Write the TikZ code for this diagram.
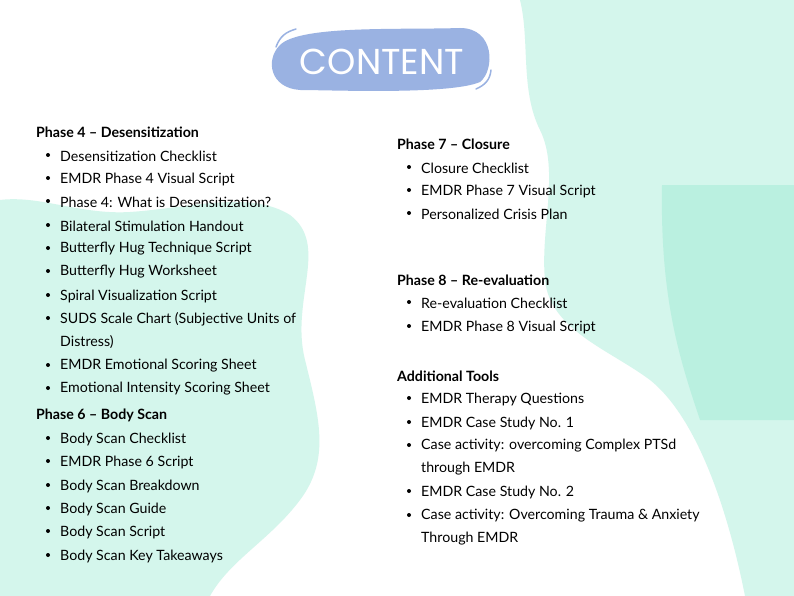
\documentclass[tikz,border=0pt]{standalone}
\usepackage{fontspec}
\setmainfont{Lato}
\newfontfamily\titlefont{Poppins}
\begin{document}
\begin{tikzpicture}[x=1pt,y=-1pt,
  hd/.style={anchor=west,font=\fontsize{14.2}{16}\selectfont\bfseries,inner sep=0},
  it/.style={anchor=west,font=\fontsize{14.2}{16}\selectfont,inner sep=0},
  bul/.style={circle,fill=black,inner sep=0,minimum size=4}]
\definecolor{mint}{RGB}{212,246,236}
\definecolor{mintd}{RGB}{186,240,224}
\definecolor{blu}{RGB}{154,178,226}
\useasboundingbox (0,0) rectangle (794,596);
\fill[white] (0,0) rectangle (794,596);
% right blob
\fill[mint] (520,0) .. controls (530,40) and (520,90) .. (540,130)
  .. controls (560,170) and (540,230) .. (545,280)
  .. controls (550,330) and (610,350) .. (650,380)
  .. controls (700,420) and (730,520) .. (745,596) -- (794,596) -- (794,0) -- cycle;
\fill[mintd] (662,185) -- (794,185) -- (794,420) -- (700,420)
  .. controls (680,360) and (660,300) .. (662,185);
% left blob
\fill[mint] (0,200) .. controls (40,195) and (80,215) .. (130,212)
  .. controls (190,208) and (250,190) .. (290,215)
  .. controls (330,245) and (290,300) .. (305,360)
  .. controls (320,420) and (330,460) .. (300,500)
  .. controls (270,540) and (230,560) .. (210,596) -- (0,596) -- cycle;
% title
\fill[blu] (280,45) .. controls (300,25) and (400,30) .. (460,28)
  .. controls (495,28) and (495,70) .. (480,82)
  .. controls (450,95) and (330,90) .. (300,90)
  .. controls (270,88) and (265,60) .. (280,45) -- cycle;
\draw[blu,line width=1.5,line cap=round] (276,47) .. controls (280,36) and (286,32) .. (296,29);
\draw[blu,line width=1.5,line cap=round] (491,70) .. controls (490,80) and (485,85) .. (476,89);
\node[text=white,font=\titlefont\fontsize{36}{40}\selectfont] (title) at (382,62) {CONTENT};
% left column
\node[hd] (h4) at (36,132) {Phase 4 – Desensitization};
\foreach \y/\t [count=\i] in {155/Desensitization Checklist,178/EMDR Phase 4 Visual Script,201/Phase 4: What is Desensitization?,225/Bilateral Stimulation Handout,248/Butterfly Hug Technique Script,271/Butterfly Hug Worksheet,295/Spiral Visualization Script,318/SUDS Scale Chart (Subjective Units of,365/EMDR Emotional Scoring Sheet,388/Emotional Intensity Scoring Sheet}{
  \node[bul] (a\i) at (48,\y) {}; \node[it] (at\i) at (60,\y+1) {\t};}
\node[it] (cont1) at (60,342) {Distress)};
\node[hd] (h6) at (36,415) {Phase 6 – Body Scan};
\foreach \y/\t [count=\i] in {438/Body Scan Checklist,461/EMDR Phase 6 Script,485/Body Scan Breakdown,508/Body Scan Guide,531/Body Scan Script,555/Body Scan Key Takeaways}{
  \node[bul] (b\i) at (48,\y) {}; \node[it] (bt\i) at (60,\y+1) {\t};}
% right column
\node[hd] (h7) at (397,144) {Phase 7 – Closure};
\foreach \y/\t [count=\i] in {167/Closure Checklist,190/EMDR Phase 7 Visual Script,213/Personalized Crisis Plan}{
  \node[bul] (c\i) at (409,\y) {}; \node[it] (ct\i) at (421,\y+1) {\t};}
\node[hd] (h8) at (397,280) {Phase 8 – Re-evaluation};
\foreach \y/\t [count=\i] in {302/Re-evaluation Checklist,326/EMDR Phase 8 Visual Script}{
  \node[bul] (d\i) at (409,\y) {}; \node[it] (dt\i) at (421,\y+1) {\t};}
\node[hd] (ha) at (397,376) {Additional Tools};
\foreach \y/\t [count=\i] in {398/EMDR Therapy Questions,422/EMDR Case Study No. 1,445/Case activity: overcoming Complex PTSd,491/EMDR Case Study No. 2,515/Case activity: Overcoming Trauma \& Anxiety}{
  \node[bul] (e\i) at (409,\y) {}; \node[it] (et\i) at (421,\y+1) {\t};}
\node[it] (cont2) at (421,469) {through EMDR};
\node[it] (cont3) at (421,539) {Through EMDR};
\end{tikzpicture}
\end{document}
